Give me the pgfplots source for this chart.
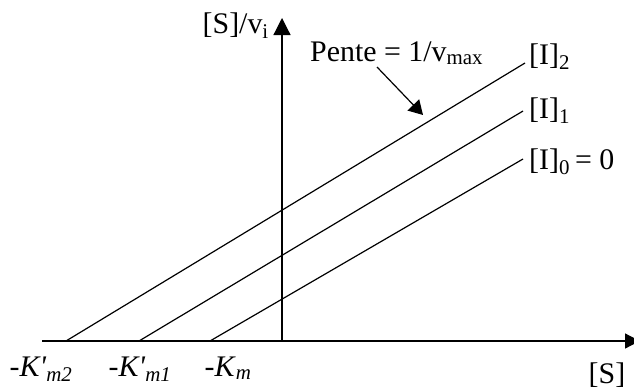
\documentclass[border=0pt]{standalone}
\usepackage{fontspec}
\setmainfont{Liberation Serif}
\usepackage{pgfplots}
\pgfplotsset{compat=1.18}
\usetikzlibrary{arrows.meta}
\begin{document}
\begin{tikzpicture}[every node/.append style={font=\fontsize{30}{34}\selectfont, inner sep=0pt}]
\begin{axis}[hide axis, scale only axis, x=1bp, y=1bp,
  xmin=-282, xmax=352, ymin=-47, ymax=341, clip=false]
% axes
\addplot[black, line width=1.2bp, -{Triangle[length=15bp,width=15bp]}] coordinates {(-240,0) (358,0)};
\addplot[black, line width=1.2bp, -{Triangle[length=17bp,width=17bp]}] coordinates {(0,0) (0,323)};
% lines
\addplot[black, line width=1.2bp] coordinates {(-216,0) (243,278)};
\addplot[black, line width=1.2bp] coordinates {(-143,0) (241,230)};
\addplot[black, line width=1.2bp] coordinates {(-72,0) (241,182)};
% slope arrow
\addplot[black, line width=1.2bp, -{Triangle[length=14bp,width=16bp]}] coordinates {(95,274) (141,226)};
% labels
\node[anchor=base east] at (axis cs:-13,308) {[S]/v\textsubscript{i}};
\node[anchor=base west] at (axis cs:28,280) {Pente = 1/v\textsubscript{max}};
\node[anchor=base west] at (axis cs:247,277) {[I]\textsubscript{2}};
\node[anchor=base west] at (axis cs:247,223) {[I]\textsubscript{1}};
\node[anchor=base west] at (axis cs:247,172) {[I]\textsubscript{0}\,= 0};
\node[anchor=base] at (axis cs:-241,-35) {-\textit{K\textquotesingle}\textsubscript{\itshape m2}};
\node[anchor=base] at (axis cs:-142,-35) {-\textit{K\textquotesingle}\textsubscript{\itshape m1}};
\node[anchor=base] at (axis cs:-54,-35) {-\textit{K}\textsubscript{\itshape m}};
\node[anchor=base] at (axis cs:325,-42) {[S]};
\end{axis}
\pgfresetboundingbox
\useasboundingbox (current axis.south west) rectangle (current axis.north east);
\end{tikzpicture}
\end{document}
